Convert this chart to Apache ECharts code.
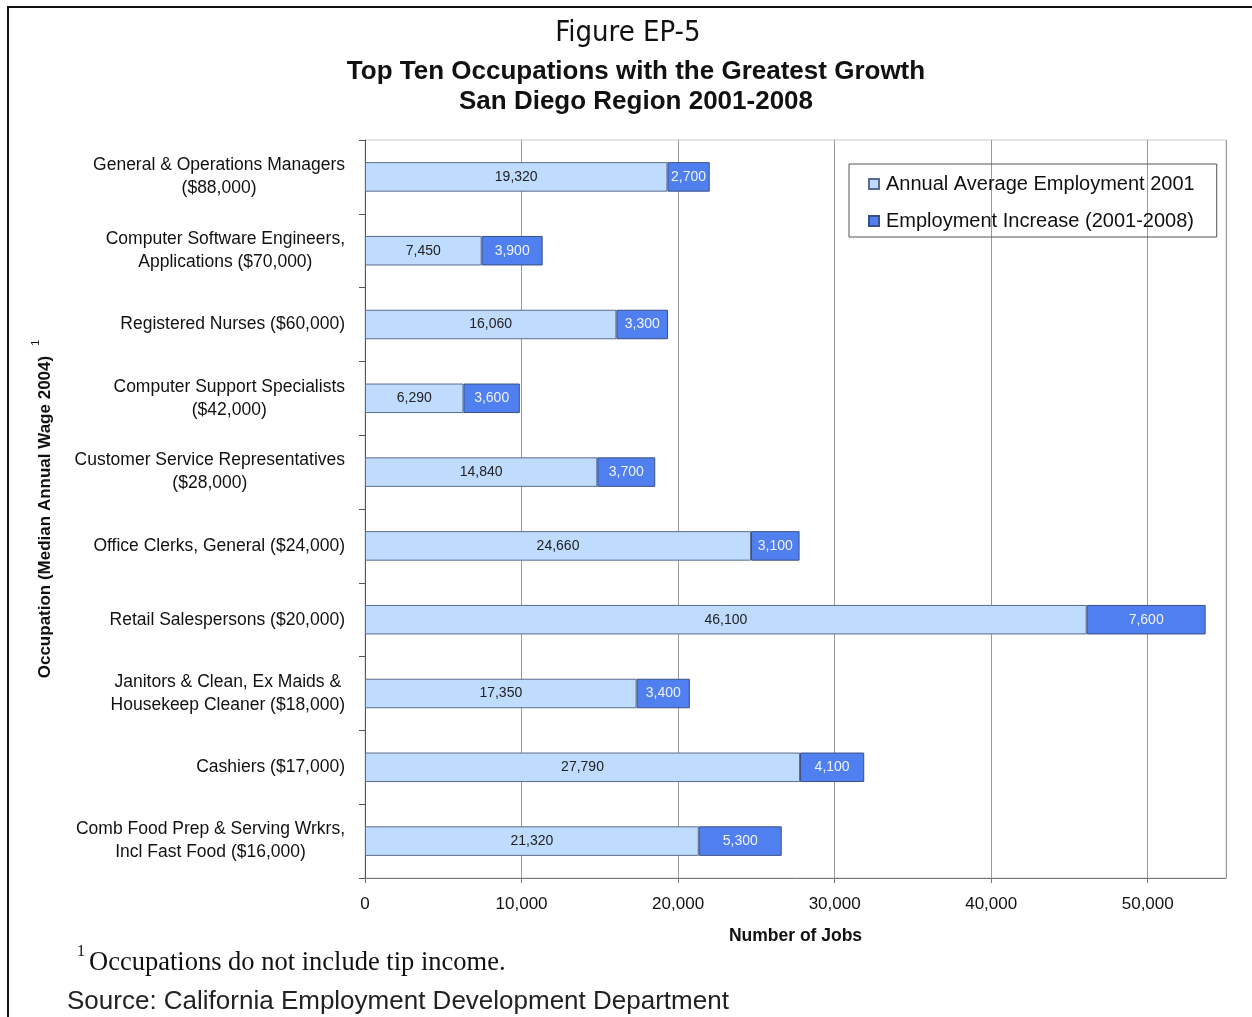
<!DOCTYPE html>
<html>
<head>
<meta charset="utf-8">
<script src="https://cdn.jsdelivr.net/npm/echarts@6/dist/echarts.min.js"></script>
<style>html,body{margin:0;padding:0;background:#fff}#c{width:1252px;height:1017px}</style>
</head>
<body>
<div id="c"></div>
<script>
const categories = [
  ['General & Operations Managers', '($88,000)'],
  ['Computer Software Engineers,', 'Applications ($70,000)'],
  ['Registered Nurses ($60,000)'],
  ['Computer Support Specialists', '($42,000)'],
  ['Customer Service Representatives', '($28,000)'],
  ['Office Clerks, General ($24,000)'],
  ['Retail Salespersons ($20,000)'],
  ['Janitors & Clean, Ex Maids &', 'Housekeep Cleaner ($18,000)'],
  ['Cashiers ($17,000)'],
  ['Comb Food Prep & Serving Wrkrs,', 'Incl Fast Food ($16,000)']
];
const employment2001 = [19320, 7450, 16060, 6290, 14840, 24660, 46100, 17350, 27790, 21320];
const increase = [2700, 3900, 3300, 3600, 3700, 3100, 7600, 3400, 4100, 5300];
const seriesNames = ['Annual Average Employment 2001', 'Employment Increase (2001-2008)'];
const xTicks = [0, 10000, 20000, 30000, 40000, 50000];

const fmt = v => v.toLocaleString('en-US');
const catKeys = categories.map(c => c.join('\n'));

const chart = echarts.init(document.getElementById('c'));
chart.setOption({
  animation: false,
  backgroundColor: '#fff',
  textStyle: { fontFamily: 'Liberation Sans, Arial, sans-serif' },
  legend: {
    orient: 'vertical', left: 849, top: 164,
    padding: [10, 22, 6, 19], itemGap: 17,
    borderColor: '#555', borderWidth: 1,
    itemWidth: 10, itemHeight: 10, icon: 'rect',
    textStyle: { fontSize: 20, color: '#111', padding: [0, 0, 0, 2] },
    data: seriesNames
  },
  grid: { left: 365, right: 26, top: 140, bottom: 139, show: true, borderColor: '#ccc', borderWidth: 1 },
  xAxis: {
    type: 'value', min: 0, max: 55000, interval: 10000,
    name: 'Number of Jobs', nameLocation: 'middle', nameGap: 49,
    nameTextStyle: { fontSize: 17.5, fontWeight: 'bold', color: '#111' },
    axisLine: { show: true, lineStyle: { color: '#777' } },
    axisTick: { show: true, length: 5, lineStyle: { color: '#777' } },
    axisLabel: { fontSize: 17, color: '#111', margin: 18, showMaxLabel: false,
      formatter: v => xTicks.includes(v) ? fmt(v) : '' },
    splitLine: { show: true, lineStyle: { color: '#9a9a9a', width: 1 } }
  },
  yAxis: {
    type: 'category', inverse: true, data: catKeys,
    name: '{a|Occupation (Median Annual Wage 2004)}{s|1}',
    nameLocation: 'middle', nameRotate: 90, nameGap: 304,
    nameTextStyle: { rich: {
      a: { fontSize: 17, fontWeight: 'bold', color: '#111' },
      s: { fontSize: 11, color: '#111', verticalAlign: 'top', padding: [0, 0, 20, 10] } } },
    axisLine: { show: true, lineStyle: { color: '#555' } },
    axisTick: { show: true, length: 6, inside: false, lineStyle: { color: '#555' } },
    axisLabel: { margin: 20, color: '#111',
      formatter: v => v.split('\n').map(l => '{c|' + l + '}').join('\n'),
      rich: { c: { fontSize: 17.5, lineHeight: 23, align: 'center', color: '#111' } } },
    splitLine: { show: false }
  },
  series: [
    { name: seriesNames[0], type: 'bar', stack: 'jobs', barWidth: '40%', data: employment2001,
      itemStyle: { color: '#bfdcff', borderColor: '#5b6b8c', borderWidth: 1 },
      label: { show: true, position: 'inside', fontSize: 14, color: '#222', formatter: p => fmt(p.value) } },
    { name: seriesNames[1], type: 'bar', stack: 'jobs', barWidth: '40%', data: increase,
      itemStyle: { color: '#5080ef', borderColor: '#3a4f85', borderWidth: 1 },
      label: { show: true, position: 'inside', fontSize: 14, color: '#eef2ff', formatter: p => fmt(p.value) } }
  ],
  graphic: [
    { type: 'rect', shape: { x: 8, y: 7, width: 1260, height: 1040 }, style: { fill: 'none', stroke: '#111', lineWidth: 2 }, silent: true },
    { type: 'text', x: 628, y: 33, style: { text: 'Figure EP-5', align: 'center', verticalAlign: 'middle', font: '29px "DejaVu Sans Condensed", "Liberation Sans Narrow", sans-serif', fill: '#111' } },
    { type: 'text', x: 636, y: 72, style: { text: 'Top Ten Occupations with the Greatest Growth', align: 'center', verticalAlign: 'middle', font: 'bold 26px "Liberation Sans", Arial, sans-serif', fill: '#111' } },
    { type: 'text', x: 636, y: 102, style: { text: 'San Diego Region 2001-2008', align: 'center', verticalAlign: 'middle', font: 'bold 26px "Liberation Sans", Arial, sans-serif', fill: '#111' } },
    { type: 'text', x: 77, y: 944, style: { text: '1', font: '16px "Liberation Serif", serif', fill: '#111' } },
    { type: 'text', x: 89, y: 963, style: { text: 'Occupations do not include tip income.', verticalAlign: 'middle', font: '26.5px "Liberation Serif", serif', fill: '#111' } },
    { type: 'text', x: 67, y: 1002, style: { text: 'Source: California Employment Development Department', verticalAlign: 'middle', font: '26px "Liberation Sans", Arial, sans-serif', fill: '#222' } }
  ]
});
</script>
</body>
</html>
